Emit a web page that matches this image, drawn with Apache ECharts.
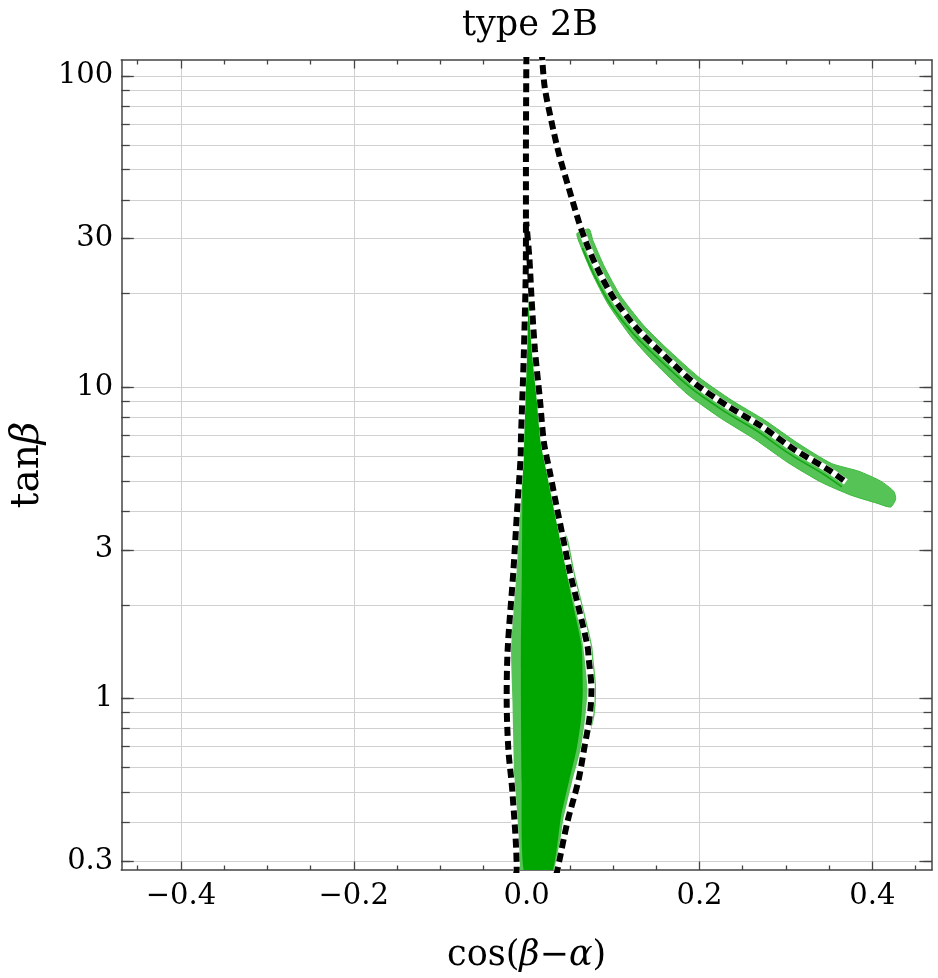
<!DOCTYPE html>
<html>
<head>
<meta charset="utf-8">
<script src="https://cdn.jsdelivr.net/npm/echarts@6/dist/echarts.min.js"></script>
<style>
  html, body { margin: 0; padding: 0; background: #fff; }
  #chart { width: 938px; height: 978px; }
</style>
</head>
<body>
<div id="chart"></div>
<script>
// axis ticks
const xMajor = [-0.4, -0.2, 0, 0.2, 0.4];
const xMinor = [-0.45, -0.35, -0.3, -0.25, -0.15, -0.1, -0.05, 0.05, 0.1, 0.15, 0.25, 0.3, 0.35, 0.45];
const yMajor = [0.3, 1, 3, 10, 30, 100];
const yMinor = [0.3, 0.4, 0.5, 0.6, 0.7, 0.8, 0.9, 1, 2, 3, 4, 5, 6, 7, 8, 9, 10, 20, 30, 40, 50, 60, 70, 80, 90, 100];

// allowed region near alignment (light and dark green)
const lightRegion = [[-0.0095,0.27],[-0.0142,0.541],[-0.0165,1.0],[-0.018,1.475],[-0.0135,2.55],[-0.009,4.15],[-0.006,6.0],[-0.005,6.8],[-0.002,9.1],[0.0,13.2],[0.0008,19.1],[0.0012,26],[0.0015,32],[0.0025,30],[0.0035,26.2],[0.005,19.1],[0.0077,13.2],[0.0135,9.13],[0.0185,6.65],[0.026,5.33],[0.0335,4.15],[0.041,3.25],[0.0488,2.55],[0.0577,1.98],[0.0654,1.475],[0.0704,1.074],[0.068,0.88],[0.0627,0.69],[0.0527,0.541],[0.042,0.4025],[0.0315,0.27]];
const darkRegion = [[-0.0022,0.27],[-0.0058,0.541],[-0.0066,1.0],[-0.0066,1.475],[-0.0055,2.55],[-0.005,4.15],[-0.0048,6.8],[-0.002,9.1],[0.0,13.2],[0.0008,19.1],[0.0012,26],[0.0015,32],[0.0025,30],[0.0035,26.2],[0.005,19.1],[0.0077,13.2],[0.0135,9.13],[0.0185,6.65],[0.025,5.33],[0.032,4.15],[0.039,3.25],[0.046,2.55],[0.054,1.98],[0.0635,1.475],[0.065,1.074],[0.0635,0.88],[0.058,0.69],[0.049,0.541],[0.040,0.421],[0.028,0.27]];
const thinEdge = [[0.043,3.4],[0.0469,3.25],[0.0545,2.55],[0.0642,1.98],[0.0749,1.475],[0.0764,1.34],[0.0795,1.074],[0.0776,0.88],[0.069,0.72]];

// wrong-sign arm: upper edge then lower edge back
const armBand = [[0.0722,32.2],[0.0767,29.6],[0.0900,24.39],[0.1086,19.66],[0.1350,15.84],[0.1613,13.39],[0.1993,10.76],[0.2372,9.08],[0.2756,7.83],[0.3140,6.60],[0.3525,5.69],[0.3843,5.37],[0.4097,4.99],[0.4247,4.63],[0.4270,4.37],
  [0.4212,4.12],[0.4051,4.24],[0.3751,4.50],[0.3408,4.95],[0.3021,5.73],[0.2637,6.81],[0.2255,7.92],[0.1863,9.48],[0.1478,12.0],[0.1211,14.5],[0.0942,18.49],[0.0755,23.30],[0.0623,28.52],[0.0582,31.16]];
const armInner = [[0.0646,27.98],[0.0781,22.97],[0.0973,18.41],[0.1243,14.75],[0.1512,12.43],[0.1896,9.96],[0.2282,8.38],[0.2666,7.23],[0.3050,6.08],[0.3436,5.25],[0.3647,4.78]];

// dashed boundaries
const dashLeft = [[-0.0125,0.27],[-0.0115,0.2825],[-0.0165,0.502],[-0.0212,0.690],[-0.0231,1.0],[-0.0219,1.443],[-0.0154,2.55],[-0.0107,4.15],[-0.0069,6.0],[-0.0066,6.8],[-0.0031,13.2],[-0.0008,28.0],[-0.0008,55.7],[-0.0003,115]];
const dashRight = [[0.034,0.27],[0.0358,0.2825],[0.0473,0.4025],[0.0597,0.541],[0.0666,0.690],[0.0731,0.880],[0.0750,1.074],[0.0719,1.34],[0.0704,1.475],[0.0597,1.98],[0.0500,2.55],[0.0424,3.25],[0.0346,4.15],[0.0269,5.33],[0.0200,6.65],[0.0154,9.13],[0.0096,13.2],[0.0058,19.1],[0.0031,26.2],[-0.0005,34]];
const dashArm = [[0.0175,120],[0.0181,112.3],[0.0211,91.3],[0.0289,71.1],[0.0377,55.7],[0.0488,43.6],[0.0604,34.0],[0.0692,29.0],[0.0827,23.8],[0.1019,19.1],[0.1289,15.3],[0.1558,12.9],[0.1942,10.3],[0.2328,8.69],[0.2712,7.50],[0.3096,6.31],[0.3482,5.45],[0.3693,4.96]];

const FONT = 'DejaVu Serif';
const AXIS_COLOR = '#444';
const GRID_COLOR = '#d0d0d0';

function polygon(pts, fill, stroke, lw, z) {
  return {
    type: 'custom', clip: true, silent: true, z: z,
    data: [pts[0]],
    renderItem: function (params, api) {
      return {
        type: 'polygon',
        shape: { points: pts.map(function (p) { return api.coord(p); }), smooth: 0.2 },
        style: { fill: fill, stroke: stroke, lineWidth: lw }
      };
    }
  };
}

function line(pts, color, width, dashed, z) {
  return {
    type: 'line', data: pts, showSymbol: false, symbol: 'none', smooth: 0.3, silent: true, z: z,
    lineStyle: { color: color, width: width, type: dashed ? [9, 5] : 'solid', cap: 'butt' }
  };
}

function fmtX(v) {
  const a = Math.abs(v).toFixed(1);
  return v < -1e-9 ? '\u2212' + a : a;
}

// main axes carry the labels, the grid and the major ticks; the others add the minor ticks
function xAx(pos, ticks, len, main) {
  return {
    type: 'value', position: pos, min: -0.469, max: 0.469,
    axisLine: { show: main, onZero: false, lineStyle: { color: AXIS_COLOR, width: 1.5 } },
    axisTick: { show: true, inside: true, length: len, customValues: ticks, lineStyle: { color: AXIS_COLOR, width: 1.3 } },
    axisLabel: pos === 'bottom' && main ? { show: true, customValues: xMajor, formatter: fmtX, margin: 12, fontFamily: FONT, fontSize: 29, color: '#000' } : { show: false },
    splitLine: { show: pos === 'bottom' && main, lineStyle: { color: GRID_COLOR, width: 1 } },
    name: pos === 'bottom' && main ? '{n|cos(}{i|β}{n|\u2212}{i|α}{n|)}' : '',
    nameLocation: 'middle', nameGap: 68,
    nameTextStyle: { rich: { n: { fontFamily: FONT, fontSize: 35, color: '#000' }, i: { fontFamily: FONT, fontStyle: 'italic', fontSize: 35, color: '#000' } } }
  };
}

function yAx(pos, ticks, len, main) {
  return {
    type: 'log', position: pos, min: 0.2811, max: 112.5,
    axisLine: { show: main, onZero: false, lineStyle: { color: AXIS_COLOR, width: 1.5 } },
    axisTick: { show: true, inside: true, length: len, customValues: ticks, lineStyle: { color: AXIS_COLOR, width: 1.3 } },
    axisLabel: pos === 'left' && main ? { show: true, customValues: yMajor, formatter: function (v) { return String(+(+v).toPrecision(3)); }, margin: 8, fontFamily: FONT, fontSize: 29, color: '#000' } : { show: false },
    splitLine: { show: pos === 'left' && main, lineStyle: { color: GRID_COLOR, width: 1 } },
    name: pos === 'left' && main ? '{n|tan}{i|β}' : '',
    nameLocation: 'middle', nameGap: 72, nameRotate: 90,
    nameTextStyle: { rich: { n: { fontFamily: FONT, fontSize: 39, color: '#000' }, i: { fontFamily: FONT, fontStyle: 'italic', fontSize: 39, color: '#000' } } }
  };
}

const chart = echarts.init(document.getElementById('chart'), null, { renderer: 'canvas' });
chart.setOption({
  animation: false,
  backgroundColor: '#fff',
  title: {
    text: 'type 2B', left: 525, top: 3, textAlign: 'center',
    textStyle: { fontFamily: FONT, fontWeight: 'normal', fontSize: 35, color: '#000' }
  },
  grid: { left: 119, right: 6, top: 60, bottom: 106 },
  xAxis: [
    xAx('bottom', xMajor, 8.5, true),
    xAx('bottom', xMinor, 4.5, false),
    xAx('top', xMajor, 8.5, true),
    xAx('top', xMinor, 4.5, false)
  ],
  yAxis: [
    yAx('left', yMinor, 8.5, true),
    yAx('left', yMajor, 12.5, false),
    yAx('right', yMinor, 8.5, true),
    yAx('right', yMajor, 12.5, false)
  ],
  series: [
    polygon(lightRegion, '#55c355', null, 0, 2),
    polygon(darkRegion, '#00a600', null, 0, 3),
    polygon(armBand, '#55c355', '#3dba3d', 1, 3),
    line(thinEdge, '#55c355', 1.5, false, 4),
    line(armInner, '#14a614', 1.6, false, 4),
    line(dashLeft, '#fff', 6.5, false, 5),
    line(dashRight, '#fff', 6.5, false, 5),
    line(dashArm, '#fff', 6.5, false, 5),
    line(dashLeft, '#000', 6, true, 6),
    line(dashRight, '#000', 6, true, 6),
    line(dashArm, '#000', 6, true, 6)
  ]
});
</script>
</body>
</html>
